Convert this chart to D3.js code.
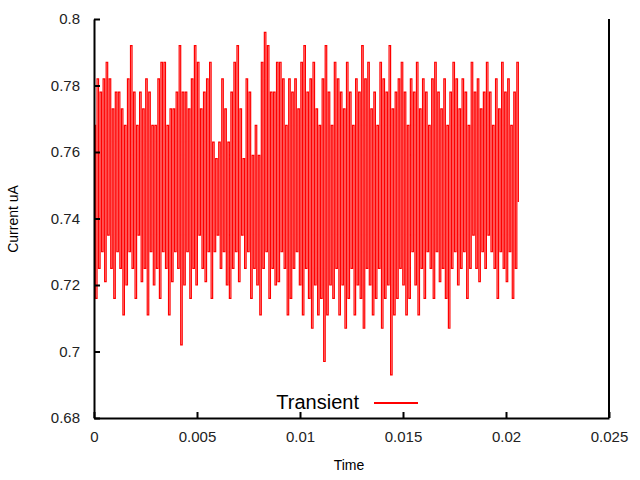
<!DOCTYPE html>
<html><head><meta charset="utf-8">
<script src="https://cdn.jsdelivr.net/npm/d3@7"></script>
<style>body{margin:0;background:#fff}text{font-family:"Liberation Sans",Arial,sans-serif}</style>
</head><body><svg id="c" width="640" height="480"></svg>
<script>
// peak and trough values, they alternate in time
const highs = [
  .768,.782,.778,.782,.787,.782,.773,.778,.778,.773,
  .768,.782,.792,.778,.768,.778,.773,.782,.778,.768,
  .768,.782,.787,.787,.768,.773,.773,.778,.792,.778,
  .778,.773,.782,.792,.787,.773,.778,.782,.787,.763,
  .758,.763,.782,.773,.763,.778,.787,.792,.773,.758,
  .782,.778,.759,.768,.759,.787,.796,.792,.778,.778,
  .787,.787,.782,.768,.782,.778,.782,.773,.787,.792,
  .778,.782,.787,.773,.768,.782,.792,.778,.768,.787,
  .782,.778,.773,.787,.778,.768,.782,.778,.792,.782,
  .787,.773,.778,.768,.787,.782,.778,.792,.773,.778,
  .782,.787,.778,.768,.782,.778,.787,.773,.782,.778,
  .768,.782,.787,.778,.773,.782,.768,.778,.787,.782,
  .773,.782,.778,.768,.787,.778,.782,.773,.778,.787,
  .778,.768,.782,.773,.787,.778,.782,.768,.778,.787];
const lows = [
  .716,.725,.730,.721,.735,.725,.716,.730,.725,.711,
  .720,.730,.725,.716,.735,.721,.725,.711,.730,.720,
  .725,.716,.730,.725,.711,.721,.730,.725,.702,.720,
  .730,.716,.725,.720,.735,.725,.721,.730,.716,.730,
  .735,.725,.730,.720,.716,.725,.730,.721,.735,.725,
  .730,.716,.725,.720,.711,.725,.730,.716,.725,.720,
  .721,.730,.725,.711,.716,.725,.730,.720,.711,.725,
  .716,.707,.720,.711,.716,.697,.711,.720,.716,.725,
  .711,.720,.707,.716,.725,.711,.720,.716,.707,.725,
  .720,.711,.716,.725,.707,.716,.720,.693,.711,.716,
  .725,.720,.711,.716,.730,.720,.711,.725,.716,.730,
  .725,.716,.730,.721,.725,.716,.707,.725,.730,.720,
  .725,.730,.716,.725,.735,.725,.721,.730,.725,.735,
  .730,.725,.716,.730,.725,.721,.730,.716,.725,.745];
const tEnd = 0.0206;
const yTicks = [0.68,0.7,0.72,0.74,0.76,0.78,0.8];
const xTicks = [0,0.005,0.01,0.015,0.02,0.025];

const series = [];
highs.forEach((h,i)=>{series.push(h); series.push(lows[i]);});
const data = series.map((v,i)=>({t: i*tEnd/(series.length-1), v}));

const svg = d3.select("#c");
const L=94,R=609,T=19,B=418;
const x = d3.scaleLinear().domain([0,0.025]).range([L,R]);
const y = d3.scaleLinear().domain([0.68,0.8]).range([B,T]);

svg.append("path").datum(data)
  .attr("fill","none").attr("stroke","#f00").attr("stroke-width",1.2)
  .attr("d", d3.line().x(d=>x(d.t)).y(d=>y(d.v)).curve(d3.curveStepAfter));

const fmt = d=>String(+d.toFixed(4));
const ya = svg.append("g").attr("transform",`translate(${L},0)`)
  .call(d3.axisLeft(y).tickValues(yTicks).tickFormat(fmt).tickSizeInner(-6).tickSizeOuter(0).tickPadding(14));
const xa = svg.append("g").attr("transform",`translate(0,${B})`)
  .call(d3.axisBottom(x).tickValues(xTicks).tickFormat(fmt).tickSizeInner(-6).tickSizeOuter(0).tickPadding(13));
[ya,xa].forEach(g=>{
  g.select(".domain").attr("stroke","#000").attr("stroke-width",2);
  g.selectAll("line").attr("stroke","#000").attr("stroke-width",2);
  g.selectAll("text").attr("font-size",15).attr("fill","#222");
});
svg.append("line").attr("x1",R).attr("x2",R).attr("y1",T).attr("y2",B).attr("stroke","#000").attr("stroke-width",2);

svg.append("text").attr("x",349).attr("y",470).attr("text-anchor","middle").attr("font-size",14).text("Time");
svg.append("text").attr("transform","translate(18,219) rotate(-90)").attr("text-anchor","middle").attr("font-size",14).text("Current uA");

svg.append("text").attr("x",359).attr("y",409).attr("text-anchor","end").attr("font-size",20).text("Transient");
svg.append("line").attr("x1",374).attr("x2",418).attr("y1",403).attr("y2",403).attr("stroke","#f00").attr("stroke-width",2);
</script></body></html>
